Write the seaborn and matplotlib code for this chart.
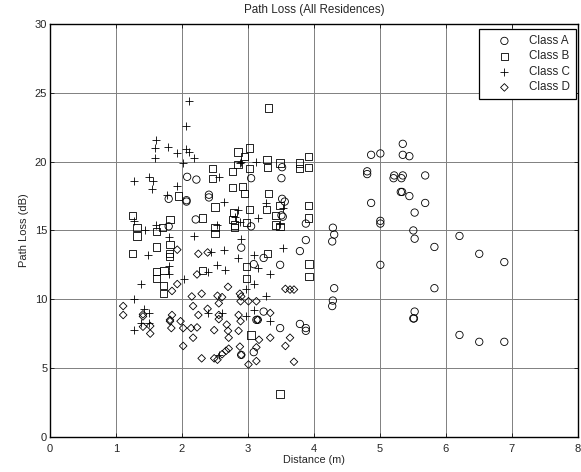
import matplotlib
matplotlib.use('Agg')
import matplotlib.pyplot as plt
import seaborn as sns

a_x = [5.35, 4.87, 5.01, 5.35, 5.45, 4.81, 4.81, 5.22, 5.21, 5.35, 5.33, 5.69, 5.34, 5.32, 5.45, 4.87, 5.69, 5.53,
       5.01, 5.01, 4.29, 4.31, 4.28, 5.51, 5.53, 6.21, 5.83, 6.51, 6.89, 5.01, 4.31, 5.83, 4.29, 4.28, 5.53, 5.52,
       5.51, 6.21, 6.51, 6.89,
       2.08, 2.22, 1.80, 2.07, 2.07, 2.41, 2.41, 2.21, 1.80,
       3.52, 3.05, 3.51, 3.52, 3.56, 3.51, 3.53, 3.88, 3.05, 3.88,
       2.90, 3.24, 3.79, 3.09, 3.49, 3.24, 3.13, 3.15, 3.49, 3.79, 3.88, 3.88, 3.09, 2.90]
a_y = [21.3, 20.5, 20.6, 20.5, 20.4, 19.3, 19.1, 19.0, 18.8, 19.0, 18.8, 19.0, 17.8, 17.8, 17.5, 17.0, 17.0, 16.3,
       15.7, 15.5, 15.2, 14.7, 14.2, 15.0, 14.4, 14.6, 13.8, 13.3, 12.7, 12.5, 10.8, 10.8, 9.9, 9.5, 9.1, 8.6,
       8.6, 7.4, 6.9, 6.9,
       18.9, 18.7, 17.3, 17.2, 17.1, 17.6, 17.4, 15.8, 15.3,
       19.6, 18.8, 18.8, 17.3, 17.1, 16.1, 16.0, 15.5, 15.3, 14.3,
       13.75, 13.0, 13.5, 12.55, 12.5, 9.1, 8.5, 8.5, 7.9, 8.2, 7.9, 7.7, 6.15, 5.95]

b_x = [2.46, 2.46, 1.95, 2.50, 1.25, 2.31, 1.82, 1.32, 1.71, 1.62, 2.50, 2.50, 1.32,
       3.31, 2.85, 3.03, 2.95, 3.29, 3.49, 3.92, 3.78, 3.78, 3.92, 3.30, 3.03, 2.85, 2.77, 2.77, 2.92, 2.95, 3.31,
       3.28, 3.03, 3.92, 3.92, 3.49, 3.42, 2.78, 2.77, 2.80, 2.80, 2.98, 3.42, 3.49,
       1.25, 1.62, 1.82, 1.81, 1.81, 1.73, 1.62, 1.62, 1.72, 1.72, 2.31,
       3.30, 2.98, 3.93, 3.93, 2.98, 3.05, 3.49]
b_y = [19.5, 18.8, 17.5, 16.7, 16.1, 15.9, 15.8, 15.2, 15.2, 14.9, 15.2, 14.8, 14.6,
       23.9, 20.7, 21.0, 20.4, 20.15, 19.9, 20.4, 19.9, 19.5, 19.6, 19.6, 19.5, 19.8, 19.3, 18.1, 18.2, 17.7, 17.7,
       16.5, 16.5, 16.8, 15.9, 16.8, 16.1, 16.3, 15.8, 15.4, 15.2, 15.6, 15.4, 15.3,
       13.3, 13.8, 14.0, 13.3, 13.1, 12.1, 12.0, 11.5, 11.0, 10.4, 12.1,
       13.3, 12.4, 12.55, 11.65, 11.5, 7.4, 3.1]

c_x = [2.11, 2.07, 1.61, 1.59, 1.79, 1.92, 2.07, 2.11, 2.19, 1.59, 2.02, 1.28, 1.50, 1.56, 1.55, 1.92, 1.78, 1.28,
       1.44, 1.61, 1.81, 2.19, 2.57, 2.53,
       2.90, 2.88, 3.13, 2.64, 3.28, 2.85, 3.16, 2.88, 3.54, 3.49, 2.89, 2.80,
       1.49, 1.81, 1.80, 1.38, 1.28, 2.03, 2.40, 2.54, 2.44, 1.43, 1.50, 1.38, 1.50, 1.28, 2.40, 2.56,
       3.54, 3.09, 2.85, 2.66, 3.16, 3.33, 3.09, 2.98, 3.28, 3.09, 2.97, 3.33, 2.61, 2.64]
c_y = [24.4, 22.6, 21.6, 21.0, 21.1, 20.6, 20.9, 20.7, 20.3, 20.3, 19.9, 18.6, 18.9, 18.6, 18.0, 18.2, 17.6, 15.7,
       15.0, 15.4, 14.5, 14.6, 18.9, 15.4,
       20.0, 19.9, 20.0, 17.1, 17.0, 16.5, 15.9, 15.6, 16.6, 15.5, 14.4, 16.0,
       13.2, 12.4, 11.8, 11.1, 10.05, 11.5, 12.0, 12.5, 13.4, 9.3, 9.0, 8.3, 8.3, 7.75, 9.0, 5.95,
       13.75, 13.2, 13.0, 12.1, 12.3, 11.85, 11.1, 10.75, 10.2, 9.2, 8.8, 8.45, 9.0, 13.6]

d_x = [1.93, 2.25, 2.39, 2.23, 1.93, 1.85, 2.15, 2.30, 2.54, 2.56, 2.17, 1.11, 1.11, 1.41, 1.41, 1.85, 2.25, 2.39,
       2.56, 2.56, 1.41, 1.52, 1.52, 1.82, 1.82, 1.84, 1.98, 2.02, 2.14, 2.23, 2.49, 2.17, 2.02, 2.30, 2.49, 2.54,
       2.70, 2.88, 2.90, 2.89, 3.01, 3.13, 2.61, 3.57, 3.64, 3.70, 3.34, 2.86, 2.89, 3.15, 2.68, 2.70, 2.86, 2.71,
       3.34, 3.64, 3.17, 3.57, 3.13, 2.88, 2.71, 2.67, 2.61, 2.90, 3.13, 3.01, 3.70]
d_y = [13.6, 13.3, 13.4, 11.8, 11.1, 10.6, 10.2, 10.4, 10.25, 9.7, 9.5, 9.5, 8.85, 8.9, 8.75, 8.85, 8.85, 9.3,
       8.85, 8.55, 8.0, 8.05, 7.5, 8.4, 8.5, 7.9, 8.4, 7.9, 7.9, 7.95, 7.75, 7.2, 6.6, 5.7, 5.7, 5.6,
       10.9, 10.4, 10.2, 9.85, 9.85, 9.85, 10.15, 10.75, 10.7, 10.7, 9.0, 8.85, 8.4, 8.5, 8.15, 7.7, 7.7, 7.2,
       7.2, 7.2, 7.05, 6.6, 6.5, 6.55, 6.4, 6.25, 6.0, 5.95, 5.5, 5.25, 5.45]

x_ticks = [0, 1, 2, 3, 4, 5, 6, 7, 8]
y_ticks = [0, 5, 10, 15, 20, 25, 30]

sns.set_theme(style='whitegrid')
plt.rcParams['font.family'] = ['Liberation Sans', 'DejaVu Sans']

fig = plt.figure(figsize=(5.81, 4.72), dpi=100)
ax = fig.add_axes([50 / 581, 35.3 / 472, 527.5 / 581, 412.5 / 472])

sns.scatterplot(x=a_x, y=a_y, marker='o', s=28, facecolor='none', edgecolor='black', linewidth=0.6, label='Class A', ax=ax, zorder=3)
sns.scatterplot(x=b_x, y=b_y, marker='s', s=28, facecolor='none', edgecolor='black', linewidth=0.6, label='Class B', ax=ax, zorder=3)
sns.scatterplot(x=c_x, y=c_y, marker='+', s=26, color='black', linewidth=0.6, label='Class C', ax=ax, zorder=3)
sns.scatterplot(x=d_x, y=d_y, marker='D', s=15, facecolor='none', edgecolor='black', linewidth=0.6, label='Class D', ax=ax, zorder=3)

ax.set_xlim(0, 8)
ax.set_ylim(0, 30)
ax.set_xticks(x_ticks)
ax.set_yticks(y_ticks)
ax.grid(True, color='#808080', linewidth=0.7)
ax.tick_params(labelsize=8, length=3, width=0.5, direction='in', color='black', pad=2, top=True, right=True, bottom=True, left=True)
ax.tick_params(axis='x', pad=5)
for side, spine in ax.spines.items():
    spine.set_color('black')
    spine.set_linewidth(1.0)

ax.set_title('Path Loss (All Residences)', fontsize=8.4, pad=8)
ax.set_xlabel('Distance (m)', fontsize=7.8, labelpad=1)
ax.set_ylabel('Path Loss (dB)', fontsize=8, labelpad=4)

leg = ax.legend(loc='upper right', bbox_to_anchor=(0.9975, 0.988), fontsize=8.4, fancybox=False, framealpha=1,
                edgecolor='black', borderaxespad=0, handletextpad=0.5, labelspacing=0.3, borderpad=0.5, handlelength=3.3)
leg.get_frame().set_linewidth(0.9)

fig.savefig('out.png', dpi=100)
